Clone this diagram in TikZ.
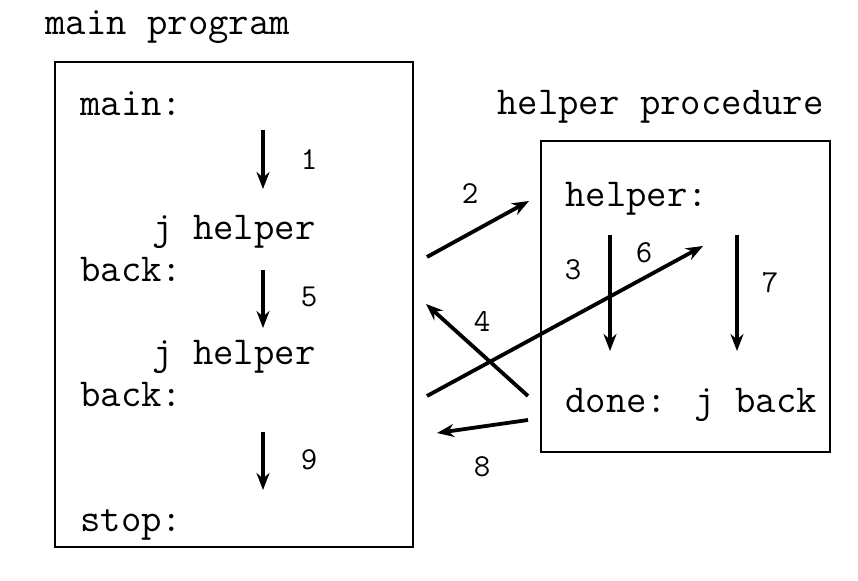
\documentclass[tikz,border=0pt]{standalone}
\usetikzlibrary{arrows.meta}
\tikzset{>={Stealth[length=8.5pt,width=6.5pt]}}
\tikzset{
  code/.style={font=\ttfamily\fontsize{19.8}{22}\selectfont, inner sep=0pt, anchor=base west},
  num/.style={font=\ttfamily\fontsize{16}{18}\selectfont, inner sep=0pt},
  flow/.style={->, line width=1.9pt},
  frame/.style={draw, line width=0.75pt}
}

\begin{document}
\begin{tikzpicture}[x=0.5pt, y=-0.5pt]
  \useasboundingbox (0,0) rectangle (858,581);
  % boxes
  \draw[frame] (55,62) rectangle (413,547);
  \draw[frame] (541,141) rectangle (830,452);
  % titles
  \node[code] (maintitle) at (45,35) {main program};
  \node[code] (helpertitle) at (497,115) {helper procedure};
  % main program
  \node[code] (main) at (80,116) {main:};
  \node[code] (call1) at (152,240) {j helper};
  \node[code] (back1) at (80,282) {back:};
  \node[code] (call2) at (152,365) {j helper};
  \node[code] (back2) at (80,407) {back:};
  \node[code] (stop) at (80,532) {stop:};
  % helper procedure
  \node[code] (helper) at (565,207) {helper:};
  \node[code] (done) at (565,413) {done: j back};
  % arrow ends
  \coordinate (a1) at (263,130);  \coordinate (b1) at (263,189);
  \coordinate (a5) at (263,270);  \coordinate (b5) at (263,328);
  \coordinate (a9) at (263,432);  \coordinate (b9) at (263,490);
  \coordinate (a3) at (610,235);  \coordinate (b3) at (610,351);
  \coordinate (a7) at (737,235);  \coordinate (b7) at (737,351);
  \coordinate (a2) at (427,257);  \coordinate (b2) at (529,201);
  \coordinate (a4) at (528,396);  \coordinate (b4) at (426,304);
  \coordinate (a6) at (427,396);  \coordinate (b6) at (703,246);
  \coordinate (a8) at (528,420);  \coordinate (b8) at (437,433);
  \foreach \k in {1,5,9,3,7,2,4,6,8}
    \draw[flow] (a\k) -- (b\k);
  % step numbers
  \node[num] (n1) at (309,160) {1};
  \node[num] (n5) at (309,297) {5};
  \node[num] (n9) at (309,460) {9};
  \node[num] (n3) at (573,270) {3};
  \node[num] (n7) at (770,283) {7};
  \node[num] (n2) at (470,194) {2};
  \node[num] (n4) at (482,322) {4};
  \node[num] (n6) at (644,253) {6};
  \node[num] (n8) at (482,467) {8};
\end{tikzpicture}
\end{document}
